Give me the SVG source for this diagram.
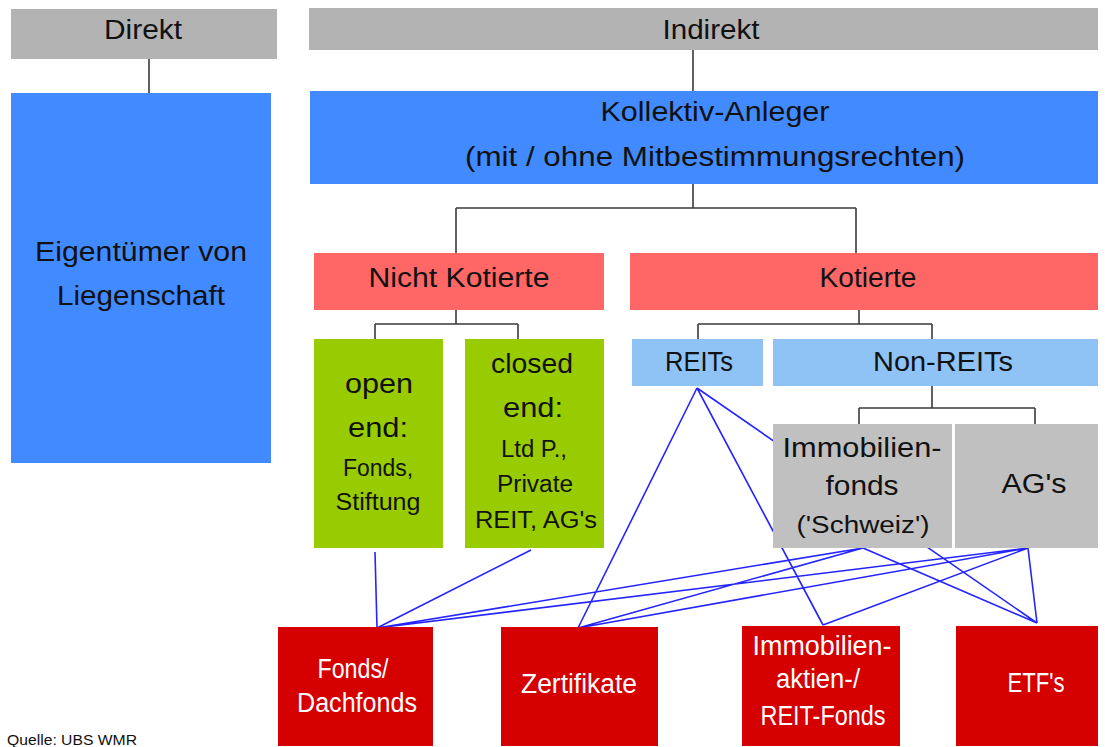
<svg xmlns="http://www.w3.org/2000/svg" width="1105" height="747" viewBox="0 0 1105 747">
<style>
text{font-family:"Liberation Sans",Arial,sans-serif;text-anchor:middle;fill:#111}
.t{font-size:27px}
.s{font-size:23px}
.w{font-size:27px;fill:#fff}
.q{font-size:14px;text-anchor:start}
.tree{stroke:#3a3a3a;stroke-width:1.6;fill:none}
.lnk{stroke:#2424ff;stroke-width:1.6;fill:none}
.gray{fill:#b3b3b3}
.blue{fill:#418aff}
.sal{fill:#ff6666}
.grn{fill:#99cc00}
.lb{fill:#8fc2f5}
.lg{fill:#c0c0c0}
.red{fill:#d50000}
</style>
<rect width="1105" height="747" fill="#fff"/>
<g id="connectors">
<path class="tree" d="M149 59V95M693 50V91M693 184V208M456 208H856M456 208V253M856 208V253M456 310V324M375 324H518M375 324V339M518 324V339M859 310V324M698 324H932M698 324V339M932 324V339M932 386V408M859 408H1035M859 408V424M1035 408V424"/>
<path class="lnk" d="M375 552L377 628M531 550L377 628M697 388L578 628M697 388L823 625M697 388L1037 623M863 548L377 628M863 548L578 628M863 548L1037 623M1028 548L377 628M1028 548L578 628M1028 548L823 625M1028 548L1037 623"/>
</g>
<g id="direkt"><rect class="gray" x="11" y="9" width="266" height="50"/><text class="t" x="143" y="39" textLength="78" lengthAdjust="spacingAndGlyphs">Direkt</text></g>
<g id="indirekt"><rect class="gray" x="309" y="8" width="789" height="42"/><text class="t" x="711" y="39" textLength="97" lengthAdjust="spacingAndGlyphs">Indirekt</text></g>
<g id="eigentuemer"><rect class="blue" x="11" y="93" width="260" height="370"/><text class="t" x="141" y="261" textLength="212" lengthAdjust="spacingAndGlyphs">Eigentümer von</text><text class="t" x="141" y="305" textLength="168" lengthAdjust="spacingAndGlyphs">Liegenschaft</text></g>
<g id="kollektiv"><rect class="blue" x="310" y="91" width="788" height="93"/><text class="t" x="715" y="121" textLength="229" lengthAdjust="spacingAndGlyphs">Kollektiv-Anleger</text><text class="t" x="715" y="166" textLength="500" lengthAdjust="spacingAndGlyphs">(mit / ohne Mitbestimmungsrechten)</text></g>
<g id="nichtkotierte"><rect class="sal" x="314" y="253" width="290" height="57"/><text class="t" x="459" y="287" textLength="181" lengthAdjust="spacingAndGlyphs">Nicht Kotierte</text></g>
<g id="kotierte"><rect class="sal" x="630" y="253" width="468" height="57"/><text class="t" x="868" y="287" textLength="97" lengthAdjust="spacingAndGlyphs">Kotierte</text></g>
<g id="openend"><rect class="grn" x="314" y="339" width="129" height="209"/><text class="t" x="379" y="393" textLength="68" lengthAdjust="spacingAndGlyphs">open</text><text class="t" x="378" y="437" textLength="60" lengthAdjust="spacingAndGlyphs">end:</text><text class="s" x="378" y="476" textLength="70" lengthAdjust="spacingAndGlyphs">Fonds,</text><text class="s" x="378" y="510" textLength="85" lengthAdjust="spacingAndGlyphs">Stiftung</text></g>
<g id="closedend"><rect class="grn" x="465" y="339" width="139" height="209"/><text class="t" x="532" y="373" textLength="82" lengthAdjust="spacingAndGlyphs">closed</text><text class="t" x="533" y="417" textLength="60" lengthAdjust="spacingAndGlyphs">end:</text><text class="s" x="534" y="457" textLength="66" lengthAdjust="spacingAndGlyphs">Ltd P.,</text><text class="s" x="535" y="492" textLength="76" lengthAdjust="spacingAndGlyphs">Private</text><text class="s" x="536" y="528" textLength="122" lengthAdjust="spacingAndGlyphs">REIT, AG's</text></g>
<g id="reits"><rect class="lb" x="632" y="339" width="131" height="47"/><text class="t" x="699" y="371" textLength="68" lengthAdjust="spacingAndGlyphs">REITs</text></g>
<g id="nonreits"><rect class="lb" x="773" y="339" width="325" height="47"/><text class="t" x="943" y="371" textLength="140" lengthAdjust="spacingAndGlyphs">Non-REITs</text></g>
<g id="immobilienfonds"><rect class="lg" x="773" y="424" width="179" height="124"/><text class="t" x="862" y="457" textLength="159" lengthAdjust="spacingAndGlyphs">Immobilien-</text><text class="t" x="862" y="495" textLength="73" lengthAdjust="spacingAndGlyphs">fonds</text><text class="s" x="863" y="533" textLength="133" lengthAdjust="spacingAndGlyphs">('Schweiz')</text></g>
<g id="ags"><rect class="lg" x="955" y="424" width="143" height="124"/><text class="t" x="1034" y="493" textLength="65" lengthAdjust="spacingAndGlyphs">AG's</text></g>
<g id="fonds"><rect class="red" x="278" y="627" width="155" height="119"/><text class="w" x="353" y="678" textLength="71" lengthAdjust="spacingAndGlyphs">Fonds/</text><text class="w" x="357" y="712" textLength="120" lengthAdjust="spacingAndGlyphs">Dachfonds</text></g>
<g id="zertifikate"><rect class="red" x="501" y="627" width="157" height="119"/><text class="w" x="579" y="693" textLength="116" lengthAdjust="spacingAndGlyphs">Zertifikate</text></g>
<g id="immobilienaktien"><rect class="red" x="742" y="626" width="158" height="120"/><text class="w" x="822" y="655" textLength="139" lengthAdjust="spacingAndGlyphs">Immobilien-</text><text class="w" x="818" y="688" textLength="84" lengthAdjust="spacingAndGlyphs">aktien-/</text><text class="w" x="823" y="725" textLength="125" lengthAdjust="spacingAndGlyphs">REIT-Fonds</text></g>
<g id="etfs"><rect class="red" x="956" y="626" width="142" height="120"/><text class="w" x="1036" y="692" textLength="57" lengthAdjust="spacingAndGlyphs">ETF's</text></g>
<g id="quelle"><text class="q" x="7" y="745" textLength="130" lengthAdjust="spacingAndGlyphs">Quelle: UBS WMR</text></g>
</svg>
